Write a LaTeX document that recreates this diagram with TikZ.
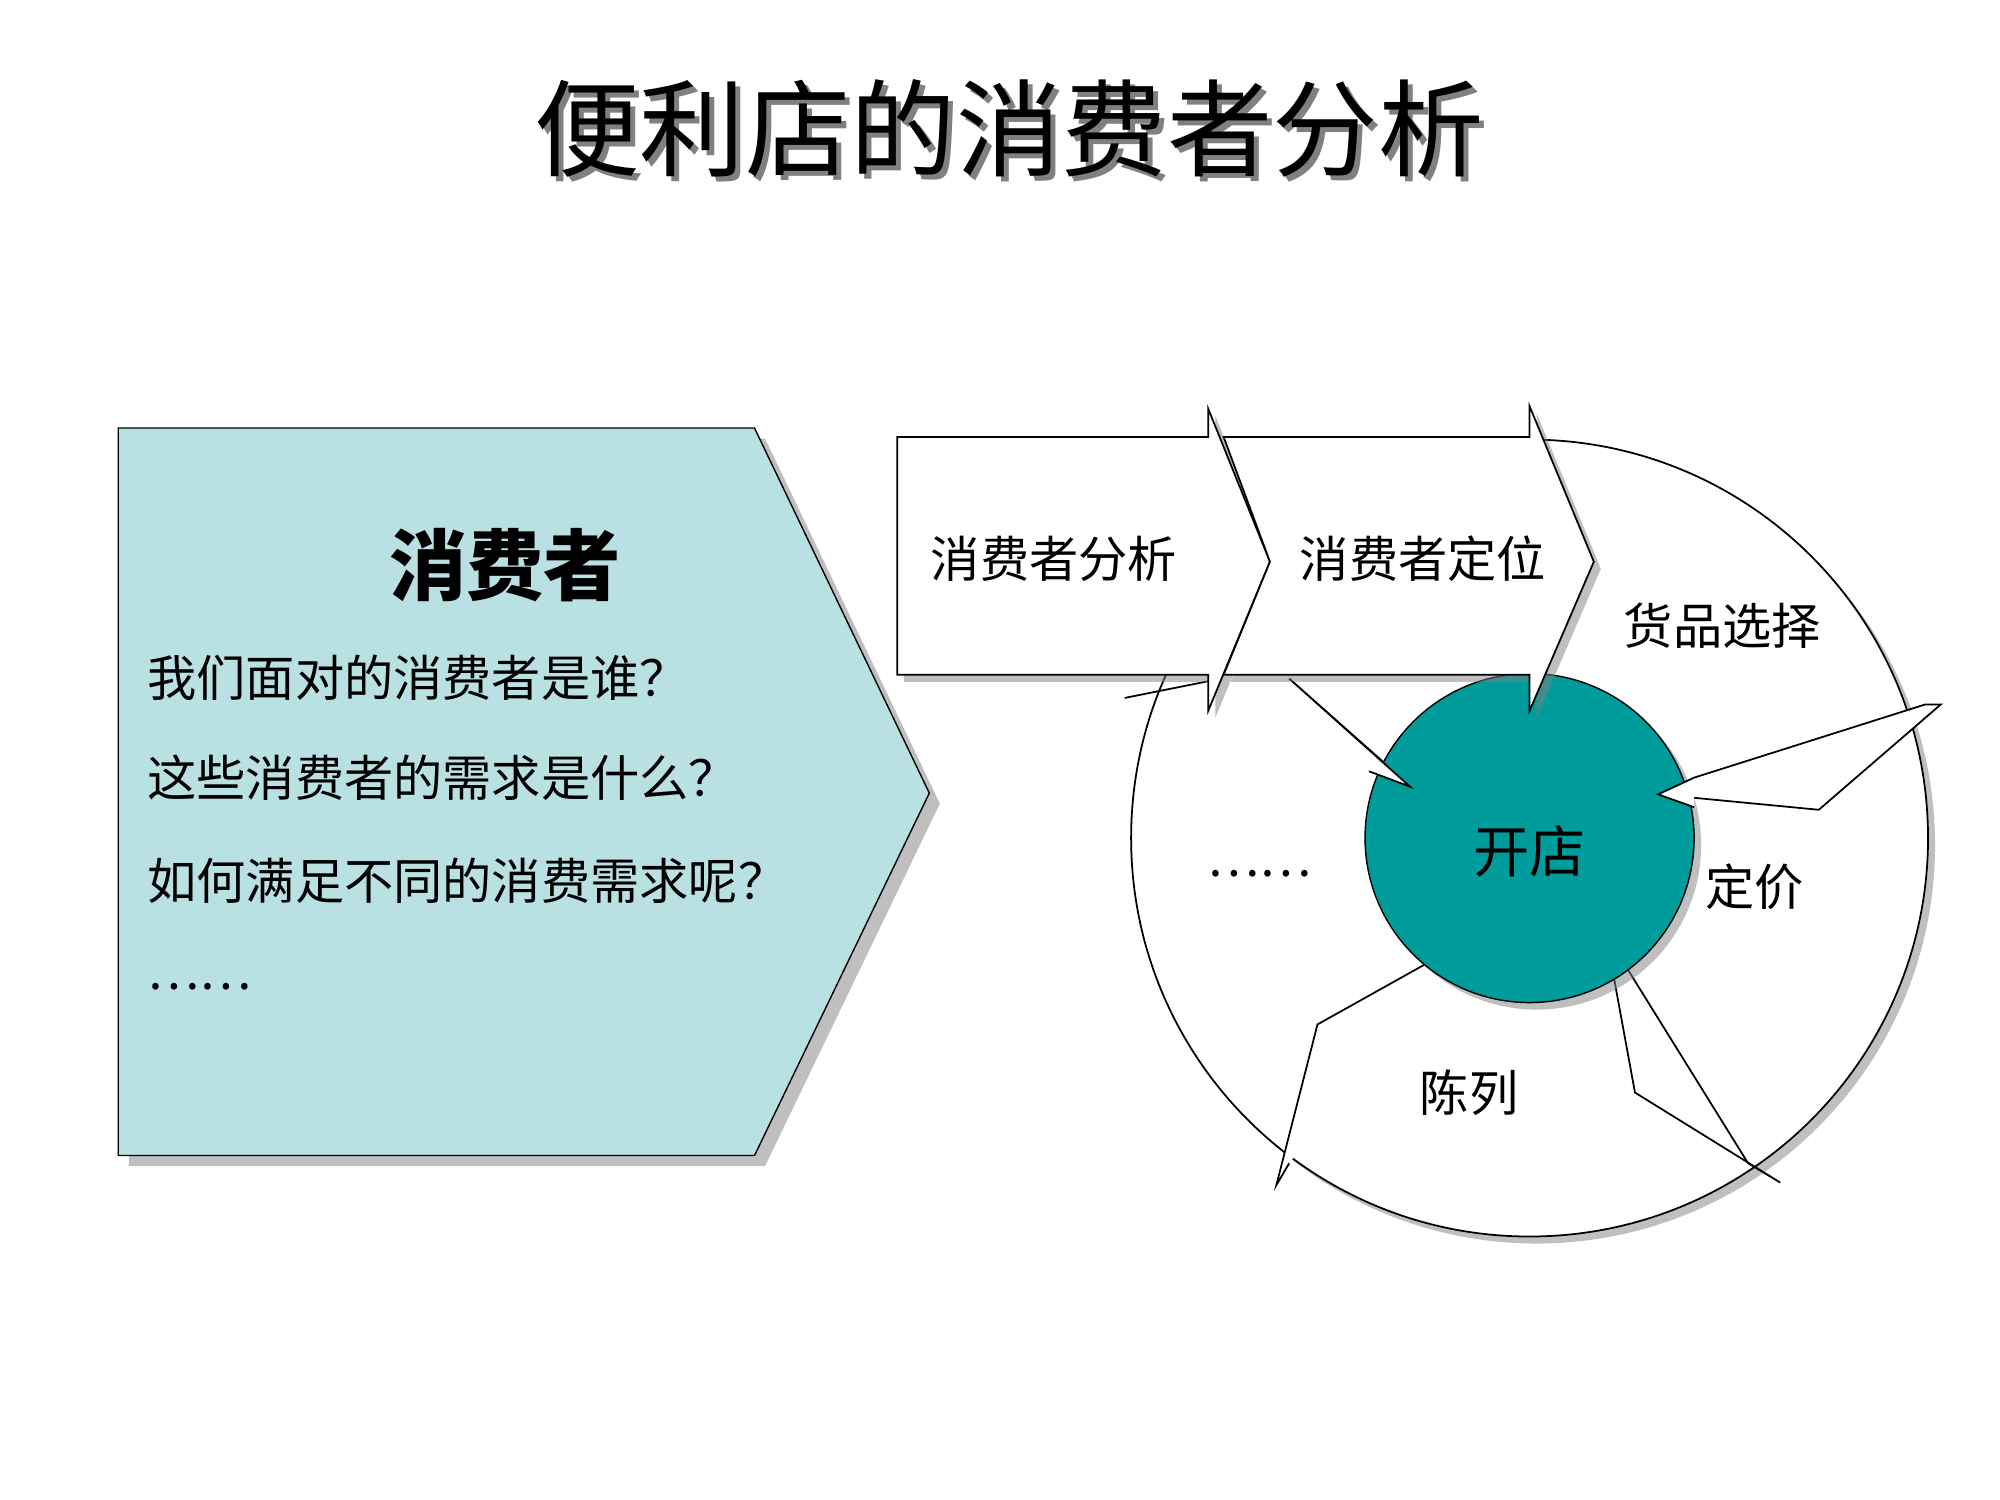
\documentclass[tikz,border=0pt]{standalone}
\usepackage{fontspec}
\setmainfont{Noto Sans CJK SC}
\usetikzlibrary{shadows}
\definecolor{panelblue}{HTML}{B9E0E3}
\definecolor{hubteal}{HTML}{009B9B}
\tikzset{
  lbl/.style={font=\fontsize{14}{16}\selectfont},
  part/.style={draw=black, fill=white, line width=0.5pt},
  cut/.style={draw=black, line width=0.5pt}
}
\begin{document}
\begin{tikzpicture}[x=0.01285cm, y=-0.01285cm]
    \useasboundingbox (0,0) rectangle (1556,1167);

    % title with a soft shadow
    \node[text=gray] at (789,104) {\fontsize{30}{34}\selectfont 便利店的消费者分析};
    \node (title) at (785,100) {\fontsize{30}{34}\selectfont 便利店的消费者分析};

    % left panel
    \draw[fill=panelblue, drop shadow={shadow xshift=3pt, shadow yshift=-3pt, fill=gray}]
        (92,333) -- (587,333) -- (723,617) -- (587,899) -- (92,899) -- cycle;
    \node (head) at (393,440) {\fontsize{22}{26}\selectfont\bfseries 消费者};
    \node[lbl, anchor=west] (q1) at (105,527) {我们面对的消费者是谁？};
    \node[lbl, anchor=west] (q2) at (105,605) {这些消费者的需求是什么？};
    \node[lbl, anchor=west] (q3) at (105,685) {如何满足不同的消费需求呢？};
    \node[lbl, anchor=west] (q4) at (105,768) {……};

    % outer ring
    \draw[part, drop shadow={shadow xshift=2pt, shadow yshift=-2pt, fill=gray}] (1190,652) circle (310);

    % separators of the ring
    \draw[cut] (875,543) -- (940,530) (1003,528) -- (1090,605);
    \draw[part] (1290,618) -- (1415,630) -- (1510,548) -- (1498,548) -- (1318,605);
    \draw[part] (1250,730) -- (1272,850) -- (1385,920) -- (1360,905) -- (1265,752);
    \draw[part] (1127,740) -- (1025,797) -- (993,922) -- (1003,905);

    % hub
    \draw[fill=hubteal, drop shadow={shadow xshift=2pt, shadow yshift=-2pt, fill=gray}] (1190,652) circle (128);
    \node[lbl] (hub) at (1190,662) {\fontsize{16}{18}\selectfont 开店};

    % arrowheads into the hub
    \draw[part] (1003,528) -- (1097,612) -- (1065,600);
    \draw[part] (1318,605) -- (1290,618) -- (1318,628);

    % chevrons
    \draw[part, drop shadow={shadow xshift=2pt, shadow yshift=-2pt, fill=gray}]
        (698,340) -- (940,340) -- (940,318) -- (988,437) -- (940,553) -- (940,525) -- (698,525) -- cycle;
    \draw[part, drop shadow={shadow xshift=2pt, shadow yshift=-2pt, fill=gray}]
        (952,340) -- (1190,340) -- (1190,316) -- (1240,437) -- (1190,553) -- (1190,525) -- (952,525) -- (988,437) -- cycle;

    \node[lbl] (s1) at (820,435) {消费者分析};
    \node[lbl] (s2) at (1107,435) {消费者定位};
    \node[lbl] (s3) at (1340,487) {货品选择};
    \node[lbl] (s4) at (1365,690) {定价};
    \node[lbl] (s5) at (1143,850) {陈列};
    \node[lbl] (s6) at (980,680) {……};
\end{tikzpicture}
\end{document}
